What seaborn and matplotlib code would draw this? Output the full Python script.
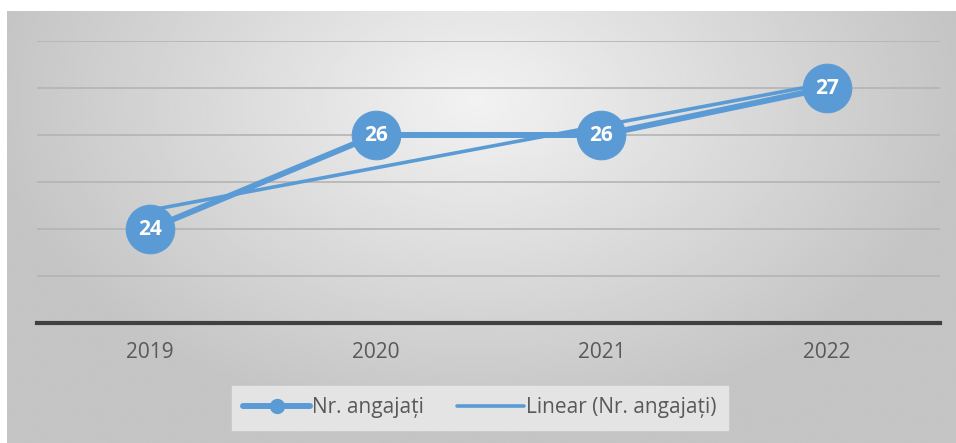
import matplotlib
matplotlib.use("Agg")
import matplotlib.pyplot as plt
from matplotlib.lines import Line2D
import seaborn as sns
import numpy as np
import pandas as pd

# data
years = [2019, 2020, 2021, 2022]
employees = [24, 26, 26, 27]
series_name = "Nr. angajați"
trend_name = "Linear (Nr. angajați)"

blue = "#5B9BD5"
text_grey = "#595959"

sns.set_style("white")
plt.rcParams['font.family'] = ['Open Sans', 'DejaVu Sans']

df = pd.DataFrame({"year": years, "value": employees})

fig = plt.figure(figsize=(9.56, 4.43), dpi=100)
fig.patch.set_facecolor("white")

# grey gradient panel behind the chart
bg = fig.add_axes([7 / 956, 0, 949 / 956, 432 / 443], zorder=0)
gx, gy = np.meshgrid(np.linspace(0, 949, 300), np.linspace(0, 432, 150))
dist = np.sqrt(((gx - 470) / 600) ** 2 + ((gy - 90) / 400) ** 2)
shade = np.clip(0.95 - 0.22 * dist, 0.77, 0.95)
bg.imshow(shade, cmap="gray", vmin=0, vmax=1, aspect="auto",
          extent=[0, 1, 0, 1], origin="upper", interpolation="bilinear")
bg.axis("off")

ax = fig.add_axes([37 / 956, 1 - 323 / 443, 903 / 956, 282 / 443], zorder=1)
ax.patch.set_alpha(0)

sns.regplot(data=df, x="year", y="value", scatter=False, ci=None, ax=ax,
            line_kws=dict(color=blue, linewidth=2.6, solid_capstyle="round"))
sns.lineplot(data=df, x="year", y="value", ax=ax, color=blue, linewidth=4.3,
             marker="o", markersize=35, markeredgecolor=blue, legend=False)

for x, y in zip(years, employees):
    ax.text(x, y, str(y), color="white", fontsize=15, fontweight="bold",
            ha="center", va="center", zorder=5)

ax.set_xlim(2018.5, 2022.5)
ax.set_ylim(22, 28)
ax.set_yticks(np.arange(23, 29, 1))
ax.yaxis.grid(True, color="#b4b4b4", linewidth=1.2)
ax.set_axisbelow(True)
ax.set_yticklabels([])
ax.tick_params(axis="y", length=0)
ax.set_xticks(years)
ax.set_xticklabels([str(y) for y in years], color=text_grey, fontsize=15)
ax.tick_params(axis="x", length=0, pad=14)
ax.set_xlabel("")
ax.set_ylabel("")
for side in ["top", "right", "left"]:
    ax.spines[side].set_visible(False)
ax.spines["bottom"].set_color("#404040")
ax.spines["bottom"].set_linewidth(3)

leg_handles = [
    Line2D([], [], color=blue, linewidth=4.3, marker="o", markersize=10),
    Line2D([], [], color=blue, linewidth=2.6),
]
leg = fig.legend(leg_handles, [series_name, trend_name], loc="center",
                 bbox_to_anchor=(480 / 956, 1 - 408 / 443), ncol=2,
                 frameon=True, fancybox=False, fontsize=15, handlelength=3.2,
                 handletextpad=0.1, columnspacing=1.6, borderpad=0.55,
                 labelcolor=text_grey)
leg.get_frame().set_facecolor("#e4e4e4")
leg.get_frame().set_edgecolor("#e4e4e4")
leg.get_frame().set_alpha(1)

plt.savefig("out.png", dpi=100)
plt.close()
